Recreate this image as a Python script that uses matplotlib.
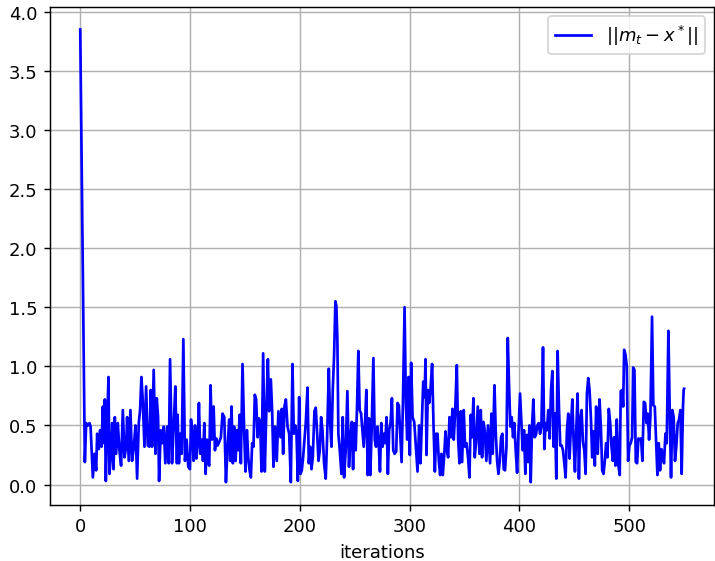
import matplotlib
matplotlib.use("Agg")
from matplotlib import pyplot as plt

# distance ||m_t - x*||, (iteration, value) pairs
iters = [
    0.0, 4.2, 5.4, 6.9, 8.5, 9.4, 11.5, 13.0, 14.5, 15.4, 16.9, 18.1, 19.4, 20.6, 21.8, 22.4,
    23.3, 24.2, 25.7, 26.6, 27.8, 29.1, 30.3, 31.5, 32.7, 34.2, 35.7, 37.2, 38.8, 40.3, 41.8,
    42.7, 44.2, 45.7, 47.2, 48.8, 50.3, 51.8, 53.3, 54.5, 55.7, 56.9, 58.5, 60.0, 61.5, 63.0,
    64.2, 65.4, 66.9, 68.5, 69.7, 70.9, 71.8, 73.3, 74.5, 76.0, 77.5, 79.1, 80.6, 81.8, 83.6,
    85.1, 86.6, 88.1, 88.7, 89.9, 91.2, 92.4, 93.9, 95.4, 96.9, 98.4, 99.9, 100.9, 102.1,
    103.3, 104.5, 105.7, 106.9, 108.1, 109.3, 110.5, 111.8, 113.0, 114.2, 115.4, 116.6,
    117.5, 118.7, 119.9, 121.5, 122.7, 123.9, 125.1, 126.6, 128.1, 129.6, 131.2, 132.7,
    134.2, 135.7, 136.6, 137.8, 139.0, 140.2, 141.5, 142.7, 143.9, 145.1, 146.3, 147.8,
    149.3, 150.5, 151.8, 153.0, 154.2, 155.4, 156.6, 157.8, 159.0, 160.2, 161.5, 162.7,
    163.9, 165.1, 166.6, 168.1, 169.6, 170.9, 172.1, 173.6, 174.8, 176.0, 177.5, 179.0,
    180.5, 182.4, 183.6, 184.8, 186.0, 187.3, 188.8, 190.3, 191.8, 193.3, 194.5, 195.8,
    197.0, 198.2, 199.4, 200.6, 201.8, 203.0, 204.2, 205.4, 207.0, 208.2, 209.4, 210.6,
    211.8, 213.3, 214.5, 215.8, 217.0, 218.2, 219.4, 220.6, 222.1, 223.6, 224.8, 226.4,
    227.6, 228.8, 230.0, 231.2, 232.4, 233.3, 234.2, 235.1, 236.4, 237.9, 239.1, 240.3,
    241.8, 243.3, 244.8, 246.1, 247.3, 248.5, 249.7, 250.9, 252.1, 253.3, 254.5, 255.8,
    257.0, 258.2, 259.4, 260.6, 261.8, 263.0, 264.2, 265.4, 267.0, 268.2, 269.4, 270.6,
    271.8, 273.0, 274.2, 275.4, 276.7, 277.8, 279.0, 280.2, 281.4, 282.7, 283.9, 285.1,
    286.3, 287.8, 289.0, 290.2, 291.4, 292.7, 293.9, 295.4, 296.6, 297.8, 299.0, 300.2,
    301.4, 302.7, 304.2, 305.7, 307.2, 308.7, 309.9, 311.1, 312.4, 313.6, 314.5, 315.4,
    316.6, 317.8, 319.0, 320.5, 321.8, 323.0, 324.2, 325.4, 326.6, 327.8, 329.0, 330.2,
    331.4, 332.7, 333.9, 335.1, 336.3, 337.8, 339.0, 340.2, 341.4, 343.0, 344.2, 345.4,
    346.6, 347.8, 349.3, 350.5, 351.8, 353.3, 354.5, 355.7, 356.9, 358.1, 359.3, 360.5,
    362.1, 363.6, 364.8, 366.0, 367.2, 368.4, 369.9, 371.4, 373.3, 374.5, 375.7, 377.3,
    378.5, 379.7, 380.9, 382.1, 383.3, 384.5, 385.7, 386.9, 388.2, 389.4, 390.6, 391.8,
    393.0, 394.2, 395.4, 396.6, 397.9, 399.1, 400.6, 401.8, 403.0, 404.2, 405.4, 406.6,
    407.9, 409.1, 410.3, 411.5, 412.7, 413.9, 415.1, 416.3, 417.6, 418.8, 420.0, 421.5,
    422.7, 423.9, 425.1, 426.3, 427.6, 428.8, 430.0, 431.2, 432.4, 433.6, 434.8, 436.0,
    437.2, 438.5, 439.7, 440.9, 442.1, 443.3, 444.5, 445.7, 446.9, 448.2, 449.4, 450.6,
    451.8, 453.0, 454.2, 455.4, 456.6, 457.9, 459.1, 460.3, 461.5, 462.7, 463.9, 465.1,
    466.3, 467.6, 468.7, 469.9, 471.4, 473.0, 474.2, 475.4, 476.6, 477.8, 479.0, 480.2,
    481.4, 482.7, 483.9, 485.1, 486.3, 487.5, 488.7, 489.9, 491.4, 492.3, 493.6, 494.5,
    495.4, 496.6, 497.8, 499.0, 500.2, 501.4, 502.7, 503.6, 504.8, 506.0, 507.2, 508.4,
    509.6, 510.8, 512.0, 513.3, 514.5, 515.7, 516.9, 518.1, 519.3, 520.8, 522.0, 523.3,
    524.5, 525.7, 526.9, 528.1, 529.3, 530.5, 531.7, 533.0, 534.2, 535.7, 536.9, 538.1,
    539.3, 540.5, 541.7, 542.9, 544.2, 545.4, 546.6, 547.8, 549.0, 549.6, 550.0,
]
dist = [
    3.85, 0.19, 0.52, 0.50, 0.52, 0.49, 0.06, 0.26, 0.12, 0.43, 0.30, 0.46, 0.32, 0.66, 0.35, 0.72,
    0.03, 0.40, 0.91, 0.09, 0.23, 0.52, 0.13, 0.57, 0.26, 0.52, 0.29, 0.16, 0.63, 0.23, 0.32,
    0.57, 0.20, 0.63, 0.20, 0.32, 0.50, 0.05, 0.52, 0.63, 0.91, 0.72, 0.32, 0.83, 0.33, 0.32,
    0.80, 0.32, 0.97, 0.26, 0.73, 0.57, 0.03, 0.46, 0.35, 0.49, 0.18, 0.49, 0.18, 1.06, 0.18,
    0.49, 0.83, 0.18, 0.59, 0.18, 0.43, 0.26, 1.23, 0.20, 0.38, 0.15, 0.13, 0.55, 0.40,
    0.20, 0.50, 0.22, 0.35, 0.69, 0.26, 0.38, 0.20, 0.52, 0.09, 0.38, 0.18,
    0.16, 0.84, 0.38, 0.66, 0.29, 0.39, 0.33, 0.36, 0.40, 0.60, 0.57, 0.02,
    0.32, 0.55, 0.20, 0.66, 0.18, 0.49, 0.20, 0.46, 0.29, 0.59, 0.18, 1.02,
    0.45, 0.11, 0.46, 0.23, 0.12, 0.06, 0.35, 0.32, 0.76, 0.72, 0.40, 0.56,
    0.52, 0.11, 1.11, 0.11, 0.66, 1.06, 0.62, 0.89, 0.62, 0.15, 0.49, 0.20,
    0.62, 0.40, 0.64, 0.26, 0.66, 0.72, 0.49, 0.43, 0.02, 1.02, 0.43, 0.50,
    0.42, 0.03, 0.74, 0.09, 0.12, 0.23, 0.38, 0.52, 0.82, 0.18, 0.32, 0.13,
    0.23, 0.62, 0.65, 0.43, 0.20, 0.29, 0.57, 0.46, 0.18, 0.05, 0.38, 0.98,
    0.53, 0.32, 0.80, 1.09, 1.55, 1.51, 1.23, 0.43, 0.29, 0.09, 0.57, 0.06,
    0.29, 0.79, 0.15, 0.40, 0.53, 0.13, 0.52, 0.29, 0.66, 1.13, 0.63, 0.60,
    0.46, 0.32, 0.52, 0.80, 0.08, 0.56, 0.08, 0.46, 1.07, 0.38, 0.32, 0.49,
    0.36, 0.11, 0.52, 0.32, 0.43, 0.35, 0.57, 0.09, 0.46, 0.53, 0.73, 0.29,
    0.26, 0.28, 0.69, 0.67, 0.43, 0.19, 0.69, 1.50, 0.69, 0.38, 0.91, 0.25,
    1.03, 0.57, 0.53, 0.32, 0.11, 0.50, 0.18, 0.52, 0.87, 0.74, 1.06, 0.25,
    0.80, 0.69, 0.80, 1.02, 0.49, 0.11, 0.43, 0.43, 0.20, 0.08, 0.26, 0.08,
    0.23, 0.45, 0.29, 0.23, 0.57, 0.40, 0.64, 0.38, 0.60, 1.01, 0.38, 0.18,
    0.62, 0.19, 0.63, 0.32, 0.35, 0.22, 0.06, 0.59, 0.40, 0.73, 0.23, 0.35,
    0.66, 0.26, 0.63, 0.23, 0.53, 0.46, 0.20, 0.50, 0.18, 0.60, 0.26, 0.84,
    0.43, 0.20, 0.09, 0.20, 0.40, 0.43, 0.13, 0.12, 0.32, 1.24, 0.83, 0.49,
    0.57, 0.40, 0.52, 0.29, 0.10, 0.43, 0.77, 0.52, 0.29, 0.46, 0.09, 0.42,
    0.19, 0.50, 0.02, 0.49, 0.72, 0.40, 0.42, 0.50, 0.52, 0.43, 0.49, 1.16,
    0.30, 0.52, 0.46, 0.63, 0.39, 0.80, 0.96, 0.32, 0.60, 0.05, 1.13, 0.66,
    0.33, 0.33, 0.29, 0.18, 0.06, 0.46, 0.60, 0.22, 0.49, 0.72, 0.36, 0.11,
    0.46, 0.77, 0.05, 0.55, 0.63, 0.36, 0.29, 0.09, 0.77, 0.90, 0.80, 0.57,
    0.23, 0.45, 0.16, 0.66, 0.26, 0.72, 0.49, 0.12, 0.09, 0.20, 0.35, 0.23,
    0.64, 0.52, 0.32, 0.20, 0.40, 0.16, 0.55, 0.18, 0.08, 0.79, 0.80, 0.66,
    1.14, 1.10, 1.00, 0.20, 0.33, 0.35, 0.40, 0.99, 0.97, 0.19, 0.18, 0.39,
    0.38, 0.39, 0.20, 0.70, 0.69, 0.52, 0.60, 0.38, 0.57, 1.42, 0.67, 0.66,
    0.38, 0.08, 0.35, 0.12, 0.30, 0.26, 0.18, 0.43, 0.35, 1.30, 0.63, 0.06,
    0.63, 0.57, 0.20, 0.32, 0.52, 0.55, 0.63, 0.09, 0.66, 0.80, 0.81,
]
label = r'$||m_t - x^*||$'

fig, ax = plt.subplots(figsize=(5.5, 4.323), dpi=130)
fig.subplots_adjust(left=0.07, right=0.999, bottom=0.1, top=0.986)

ax.plot(iters, dist, color='blue', label=label)
ax.set_xlabel('iterations')
ax.grid(True)
ax.legend(loc='upper right')

plt.savefig('out.png', dpi=130)
